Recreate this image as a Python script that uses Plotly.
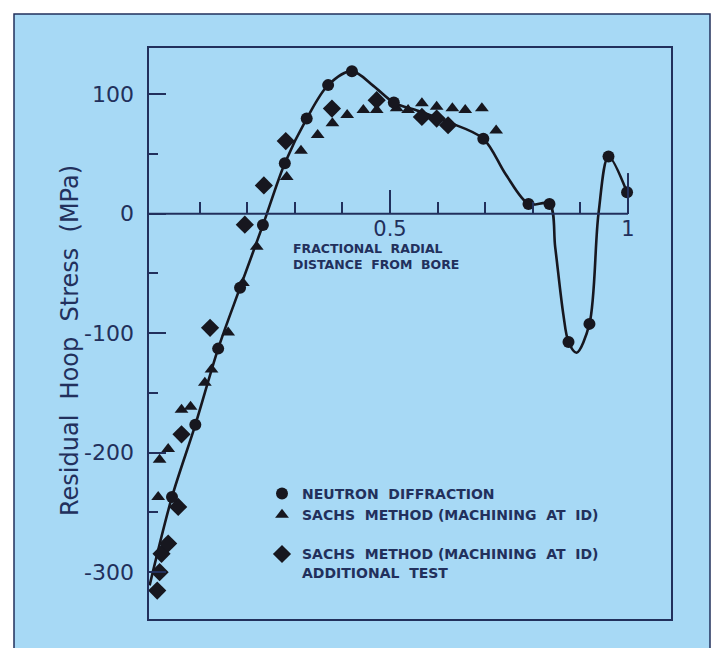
import plotly.graph_objects as go

# ---------------- data ----------------
neutron_x = [0.042, 0.091, 0.139, 0.185, 0.233, 0.279, 0.325, 0.370, 0.420,
             0.508, 0.696, 0.791, 0.835, 0.875, 0.919, 0.959, 0.998]
neutron_y = [-237, -176.7, -112.9, -61.9, -9.5, 42.3, 79.6, 107.6, 119.3,
             93, 62.8, 8.2, 8.2, -107.3, -92.2, 47.9, 17.9]

# hand-drawn fitted curve (passes through the neutron points)
curve_x = [-0.005, 0.042, 0.091, 0.139, 0.185, 0.233, 0.279, 0.325, 0.370, 0.420,
           0.465, 0.508, 0.560, 0.620, 0.696, 0.743, 0.791, 0.835, 0.847, 0.864,
           0.875, 0.892, 0.919, 0.938, 0.959, 0.998]
curve_y = [-311, -237, -176.7, -112.9, -61.9, -9.5, 42.3, 79.6, 107.6, 119.3,
           107, 93, 86, 77, 62.8, 33, 8.2, 8.2, -28, -84,
           -107.3, -116.3, -92.2, 0, 47.9, 17.9]

sachs_x = [0.013, 0.016, 0.034, 0.062, 0.081, 0.111, 0.125, 0.160, 0.191, 0.220,
           0.283, 0.313, 0.348, 0.379, 0.410, 0.444, 0.472, 0.514, 0.538, 0.567,
           0.598, 0.631, 0.658, 0.693, 0.723]
sachs_y = [-237, -206, -197, -164, -161.6, -141.5, -130.3, -99.5, -58, -27.6,
           30.8, 52.6, 65.8, 75.6, 82.6, 86.8, 86.8, 88.2, 86.8, 92.4,
           89.6, 88.2, 86.8, 88.2, 69.7]

sachs2_x = [0.011, 0.016, 0.020, 0.034, 0.055, 0.062, 0.122, 0.195, 0.235,
            0.281, 0.378, 0.472, 0.567, 0.598, 0.622]
sachs2_y = [-315.4, -300, -284.6, -276, -245.4, -184.6, -95.5, -9.2, 23.7,
            60.8, 88, 95, 81, 79.6, 74]

y_major = [-300, -200, -100, 0, 100]
y_major_text = ["-300", "-200", "-100", "0", "100"]
y_minor = [-250, -150, -50, 50]
x_major = [0.5, 1]
x_major_text = ["0.5", "1"]
x_minor = [0.1, 0.2, 0.3, 0.4, 0.6, 0.7, 0.8, 0.9]

legend_names = ["NEUTRON  DIFFRACTION",
                "SACHS  METHOD (MACHINING  AT  ID)",
                "SACHS  METHOD (MACHINING  AT  ID)<br>ADDITIONAL  TEST"]

x_title = "FRACTIONAL  RADIAL<br>DISTANCE  FROM  BORE"
y_title = "Residual  Hoop  Stress  (MPa)"

# ---------------- styling ----------------
X_RANGE = [-0.0084, 1.0924]
Y_RANGE = [-340, 139.5]
BG = "#a7d9f5"
NAVY = "#22305c"
INK = "#17171f"

W, H = 717, 648
ML, MR, MT, MB = 148, 45, 47, 28
PW, PH = W - ML - MR, H - MT - MB


def px_x(p):
    return (p - ML) / PW


def px_y(p):
    return (H - MB - p) / PH


fig = go.Figure()

fig.add_trace(go.Scatter(
    x=curve_x, y=curve_y,
    mode="lines", line=dict(color=INK, width=2.6, shape="spline", smoothing=0.9),
    showlegend=False, hoverinfo="skip"))

fig.add_trace(go.Scatter(
    x=sachs_x, y=sachs_y, mode="markers", name=legend_names[1], legendgroup="a",
    legendrank=2, marker=dict(symbol="triangle-up", size=12, color=INK)))

fig.add_trace(go.Scatter(
    x=sachs2_x, y=sachs2_y, mode="markers", name=legend_names[2], legendgroup="b",
    legendrank=3, marker=dict(symbol="diamond", size=14, color=INK)))

fig.add_trace(go.Scatter(
    x=neutron_x, y=neutron_y, mode="markers", name=legend_names[0], legendgroup="a",
    legendrank=1, marker=dict(symbol="circle", size=12, color=INK)))

zero_pos = (0 - Y_RANGE[0]) / (Y_RANGE[1] - Y_RANGE[0])

fig.update_layout(
    width=W, height=H,
    margin=dict(l=ML, r=MR, t=MT, b=MB),
    paper_bgcolor="white",
    plot_bgcolor="rgba(0,0,0,0)",
    font=dict(family="DejaVu Sans", color=NAVY),
    xaxis=dict(
        range=X_RANGE, anchor="free", position=zero_pos, side="bottom",
        showgrid=False, zeroline=False, showline=False,
        tickmode="array", tickvals=x_major, ticktext=x_major_text,
        ticks="inside", ticklen=24, tickwidth=2, tickcolor=NAVY,
        tickfont=dict(family="DejaVu Sans", size=21, color=NAVY),
        minor=dict(tickmode="array", tickvals=x_minor, ticks="inside",
                   ticklen=12, tickwidth=2, tickcolor=NAVY),
    ),
    yaxis=dict(
        range=Y_RANGE, showgrid=False, zeroline=False, showline=False,
        tickmode="array", tickvals=y_major, ticktext=y_major_text,
        ticks="inside", ticklen=18, tickwidth=2, tickcolor=NAVY,
        ticklabelstandoff=13,
        tickfont=dict(family="DejaVu Sans", size=22, color=NAVY),
        minor=dict(tickmode="array", tickvals=y_minor, ticks="inside",
                   ticklen=10, tickwidth=2, tickcolor=NAVY),
    ),
    legend=dict(
        x=px_x(262), y=px_y(478), xanchor="left", yanchor="top",
        bgcolor="rgba(0,0,0,0)", borderwidth=0,
        font=dict(family="DejaVu Sans", size=14, color=NAVY, weight="bold"),
        traceorder="grouped", tracegroupgap=18, valign="top",
        itemclick=False, itemdoubleclick=False,
    ),
    showlegend=True,
)

# outer light-blue panel
fig.add_shape(type="rect", xref="paper", yref="paper",
              x0=px_x(14), x1=px_x(710), y0=px_y(680), y1=px_y(14),
              fillcolor=BG, line=dict(color=NAVY, width=1.5), layer="below")
# plot frame
fig.add_shape(type="rect", xref="paper", yref="paper", x0=0, x1=1, y0=0, y1=1,
              line=dict(color=NAVY, width=2))
# x axis line running from left frame to x = 1
fig.add_shape(type="line", xref="x", yref="y", x0=X_RANGE[0], x1=1, y0=0, y1=0,
              line=dict(color=NAVY, width=2))
# taller end tick at x = 1
fig.add_shape(type="line", xref="x", yref="y", x0=1, x1=1, y0=0, y1=34,
              line=dict(color=NAVY, width=2))

fig.add_annotation(text="<b>" + x_title + "</b>", xref="paper", yref="paper",
                   x=px_x(291), y=px_y(239), xanchor="left", yanchor="top",
                   align="left", showarrow=False,
                   font=dict(family="DejaVu Sans", size=12.5, color=NAVY))

fig.add_annotation(text=y_title, xref="paper", yref="paper",
                   x=px_x(70), y=px_y(341), xanchor="center", yanchor="middle",
                   textangle=-90, showarrow=False,
                   font=dict(family="DejaVu Sans", size=24, color=NAVY))

fig.write_html("out.html")
